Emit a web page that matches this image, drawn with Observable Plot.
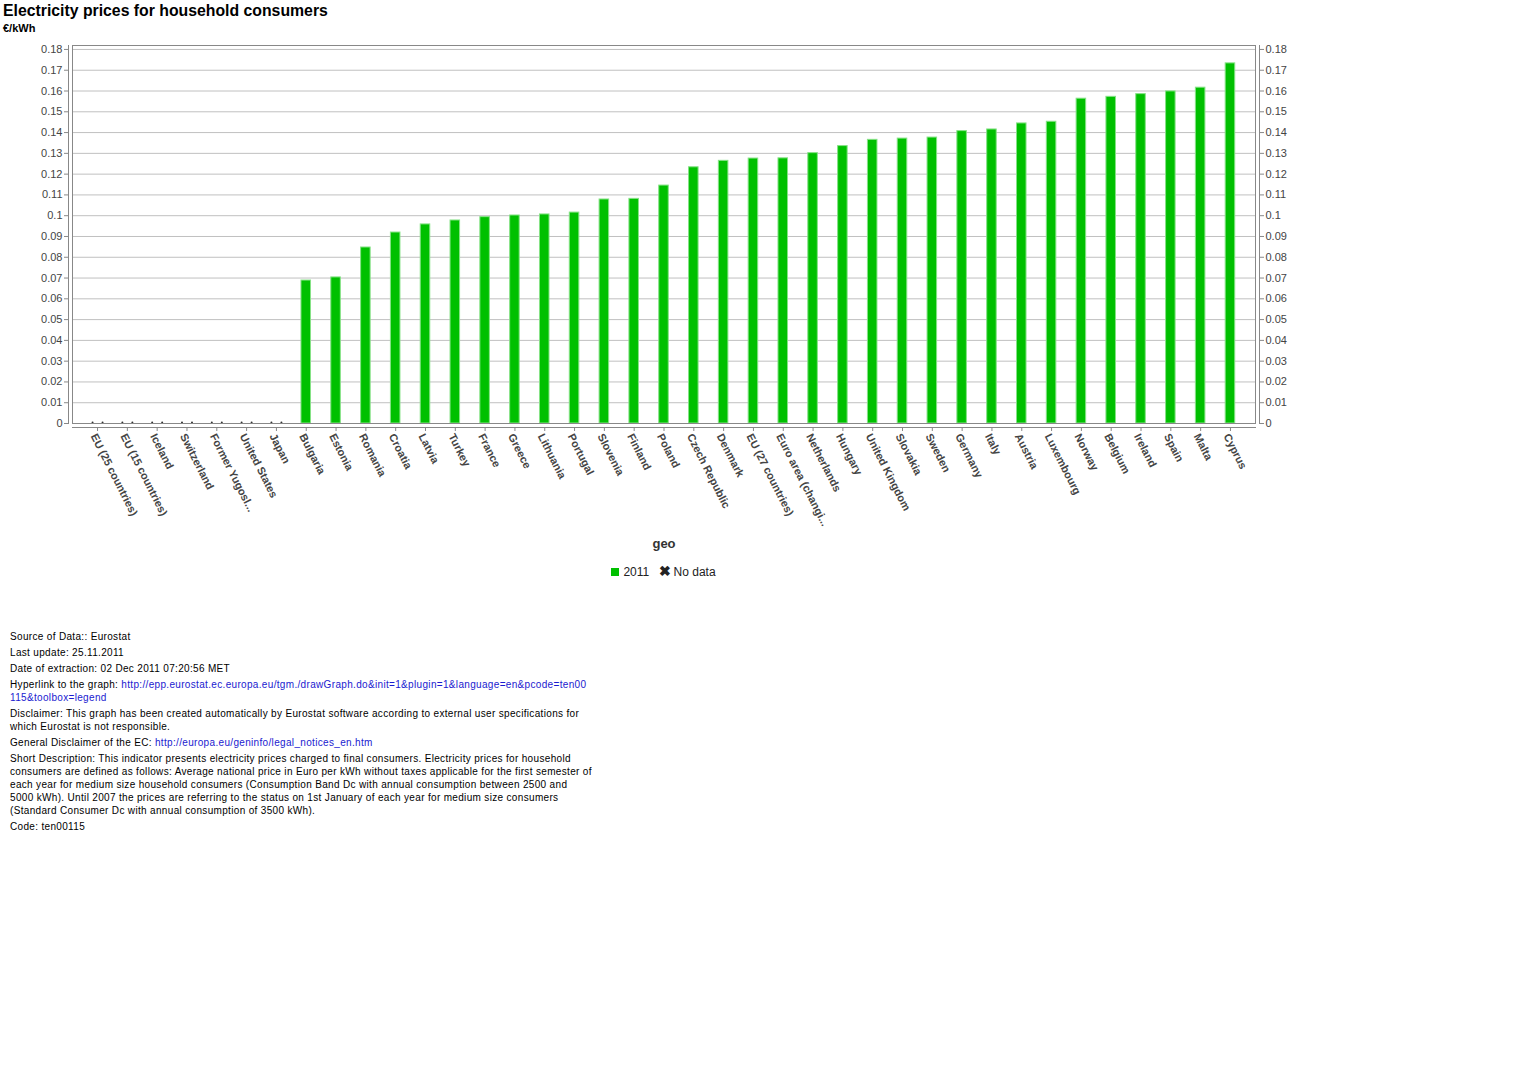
<!DOCTYPE html>
<html><head><meta charset="utf-8">
<script src="https://cdn.jsdelivr.net/npm/d3@7"></script>
<script src="https://cdn.jsdelivr.net/npm/@observablehq/plot@0.6"></script>
<style>
body{margin:0;background:#fff;font-family:"Liberation Sans",Arial,sans-serif;width:1526px;height:1080px;position:relative;overflow:hidden;}
#title{position:absolute;left:3px;top:1px;font-size:15.8px;font-weight:bold;line-height:20px;color:#000;white-space:nowrap;}
#sub{position:absolute;left:3px;top:21px;font-size:11px;font-weight:bold;line-height:14px;color:#000;}
#chart{position:absolute;left:0;top:35px;}
#legend{position:absolute;left:0;top:563px;width:1327px;text-align:center;font-size:12px;line-height:16px;color:#222;}
#legend .sw{display:inline-block;width:8px;height:8px;background:#00c000;margin-right:4px;vertical-align:0px;}
#legend .x{font-weight:bold;font-size:14px;margin-left:6px;margin-right:3px;}
#footer{position:absolute;left:10px;top:630px;font-size:10px;color:#000;letter-spacing:0.33px;}
#footer p{margin:0 0 3px 0;line-height:13px;white-space:nowrap;}
#footer a{color:#1a1ad0;text-decoration:none;}
</style></head><body>
<div id="title">Electricity prices for household consumers</div>
<div id="sub">€/kWh</div>
<div id="chart"></div>
<div id="legend"><span class="sw"></span>2011 <span class="x">✖</span>No data</div>
<div id="footer">
<p>Source of Data:: Eurostat</p>
<p>Last update: 25.11.2011</p>
<p>Date of extraction: 02 Dec 2011 07:20:56 MET</p>
<p>Hyperlink to the graph: <a>http://epp.eurostat.ec.europa.eu/tgm./drawGraph.do&amp;init=1&amp;plugin=1&amp;language=en&amp;pcode=ten00<br>115&amp;toolbox=legend</a></p>
<p>Disclaimer: This graph has been created automatically by Eurostat software according to external user specifications for<br>which Eurostat is not responsible.</p>
<p>General Disclaimer of the EC: <a>http://europa.eu/geninfo/legal_notices_en.htm</a></p>
<p>Short Description: This indicator presents electricity prices charged to final consumers. Electricity prices for household<br>consumers are defined as follows: Average national price in Euro per kWh without taxes applicable for the first semester of<br>each year for medium size household consumers (Consumption Band Dc with annual consumption between 2500 and<br>5000 kWh). Until 2007 the prices are referring to the status on 1st January of each year for medium size consumers<br>(Standard Consumer Dc with annual consumption of 3500 kWh).</p>
<p>Code: ten00115</p>
</div>
<script>
const categories = [
  "EU (25 countries)", "EU (15 countries)", "Iceland", "Switzerland", "Former Yugosl...",
  "United States", "Japan", "Bulgaria", "Estonia", "Romania", "Croatia", "Latvia", "Turkey",
  "France", "Greece", "Lithuania", "Portugal", "Slovenia", "Finland", "Poland", "Czech Republic",
  "Denmark", "EU (27 countries)", "Euro area (changi...", "Netherlands", "Hungary",
  "United Kingdom", "Slovakia", "Sweden", "Germany", "Italy", "Austria", "Luxembourg",
  "Norway", "Belgium", "Ireland", "Spain", "Malta", "Cyprus"
];
const values2011 = [
  null, null, null, null, null, null, null,
  0.0688, 0.0703, 0.0847, 0.0919, 0.0958, 0.0977, 0.0993, 0.1001, 0.1006, 0.1015,
  0.1078, 0.1081, 0.1145, 0.1233, 0.1264, 0.1275, 0.1276, 0.1301, 0.1335, 0.1365,
  0.1371, 0.1376, 0.1407, 0.1415, 0.1444, 0.1452, 0.1563, 0.1572, 0.1585, 0.1598,
  0.1616, 0.1733
];
const yTicks = [0, 0.01, 0.02, 0.03, 0.04, 0.05, 0.06, 0.07, 0.08, 0.09, 0.1, 0.11, 0.12, 0.13, 0.14, 0.15, 0.16, 0.17, 0.18];

const data = categories.map((geo, i) => ({geo, value: values2011[i]}));
const withData = data.filter(d => d.value != null);
const noData = data.filter(d => d.value == null);
const fmt = d => String(+d.toFixed(2));
const axisColor = "#888";

const chart = Plot.plot({
  width: 1526,
  height: 521,
  marginTop: 10,
  marginLeft: 72,
  marginRight: 271,
  marginBottom: 133,
  style: {fontFamily: "'Liberation Sans', Arial, sans-serif", fontSize: "11px", color: "#555", background: "#fff"},
  x: {domain: categories, padding: 0.68, label: null},
  y: {domain: [0, 0.1819], label: null},
  marks: [
    Plot.gridY(yTicks, {stroke: "#c0c0c0", strokeOpacity: 1}),
    Plot.barY(withData, {x: "geo", y: "value", fill: "#00c000", stroke: "#86e286", strokeWidth: 1}),
    Plot.dot(noData, {x: "geo", y: () => 0, r: 1, fill: "#333", stroke: null, dx: -5, dy: -1}),
    Plot.dot(noData, {x: "geo", y: () => 0, r: 1, fill: "#333", stroke: null, dx: 5, dy: -1}),
    Plot.frame({stroke: axisColor}),
    Plot.frame({anchor: "left", dx: -4, stroke: axisColor}),
    Plot.frame({anchor: "right", dx: 4, stroke: axisColor}),
    Plot.frame({anchor: "bottom", dy: 4, stroke: axisColor}),
    Plot.axisY(yTicks, {anchor: "left", dx: -4, tickSize: 4, tickPadding: 2, tickFormat: fmt, fill: "#444", stroke: axisColor, label: null}),
    Plot.axisY(yTicks, {anchor: "right", dx: 4, tickSize: 4, tickPadding: 2, tickFormat: fmt, fill: "#444", stroke: axisColor, label: null}),
    Plot.axisX({anchor: "bottom", dy: 4, tickSize: 4, tickFormat: () => "", stroke: axisColor, label: null}),
    Plot.axisX({anchor: "bottom", dy: 4, dx: -4, tickSize: 0, tickPadding: 7, tickRotate: 63, fontWeight: "bold", fill: "#444", label: null}),
    Plot.text(["geo"], {frameAnchor: "bottom", dy: 124, text: d => d, fontWeight: "bold", fontSize: 13, fill: "#333"})
  ]
});
document.getElementById("chart").appendChild(chart);
</script>
</body></html>
